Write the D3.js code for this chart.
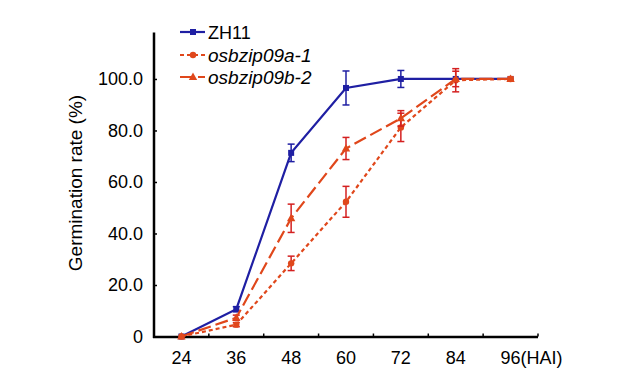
<!DOCTYPE html>
<html><head><meta charset="utf-8">
<script src="https://cdn.jsdelivr.net/npm/d3@7"></script>
<style>body{margin:0;background:#fff}svg{display:block}text{font-family:"Liberation Sans",Arial,sans-serif}</style>
</head><body><svg id="c" width="644" height="383"></svg>
<script>
const categories = ["24","36","48","60","72","84","96"];
const seriesNames = ["ZH11","osbzip09a-1","osbzip09b-2"];
const zh11 = [0, 10.6, 71.3, 96.5, 100, 100, 100];
const zh11Err = [0, 1, 3.4, 6.6, 3.3, 0, 0];
const a1 = [0, 4.6, 28.4, 52.3, 81.2, 99.5, 100];
const a1Err = [0, 0.8, 2.8, 6, 5.5, 4.5, 0];
const b2 = [0, 7.3, 45.9, 73, 84.7, 100, 100];
const b2Err = [0, 1, 5.5, 4.3, 3, 3, 0];
const yTicks = [0, 20, 40, 60, 80, 100];
const yTickLabels = ["0","20.0","40.0","60.0","80.0","100.0"];
const xAxisSuffix = "(HAI)";
const yLabel = "Germination rate (%)";

const svg = d3.select("#c");
const x = d3.scaleBand().domain(categories).range([154, 538]).paddingInner(0).paddingOuter(0);
const y = d3.scaleLinear().domain([0, 118]).range([336.5, 32.6]);
const cx = d => x(d) + x.bandwidth()/2;

const blue = "#1f1fa3", orange = "#e0471b", red = "#d42020";
const series = [
  {name: seriesNames[0], vals: zh11, err: zh11Err, color: blue, errColor: blue, dash: null, marker: "square", italic: false},
  {name: seriesNames[1], vals: a1, err: a1Err, color: orange, errColor: red, dash: "4,3", marker: "circle", italic: true},
  {name: seriesNames[2], vals: b2, err: b2Err, color: orange, errColor: red, dash: "13,5", marker: "triangle", italic: true}
];

// axes
const yAxis = d3.axisLeft(y).tickValues(yTicks).tickFormat((d,i)=>yTickLabels[i]).tickSizeInner(-3).tickSizeOuter(0).tickPadding(11);
const gy = svg.append("g").attr("transform","translate(154,0)").call(yAxis);
gy.select(".domain").remove();
gy.selectAll(".tick line").attr("stroke","#000").attr("stroke-width",1.5);
gy.selectAll(".tick text").attr("font-size",18).attr("fill","#000").attr("font-family","Liberation Sans, Arial, sans-serif");
svg.append("line").attr("x1",154).attr("x2",154).attr("y1",y(118)).attr("y2",338).attr("stroke","#000").attr("stroke-width",2.5);

const edges = categories.slice(1).map(c => x(c)).concat([x(categories[categories.length-1]) + x.bandwidth()]);
svg.append("g").selectAll("line").data(edges).join("line")
  .attr("x1",d=>d).attr("x2",d=>d).attr("y1",333.5).attr("y2",336.5).attr("stroke","#000").attr("stroke-width",1.5);
svg.append("line").attr("x1",153).attr("x2",x(categories[categories.length-1]) + x.bandwidth()).attr("y1",337).attr("y2",337).attr("stroke","#000").attr("stroke-width",2.5);

const xl = svg.append("g").selectAll("text").data(categories).join("text")
  .attr("y", 363.5).attr("font-size",18).attr("fill","#000");
xl.each(function(d,i){
  const t = d3.select(this);
  if (i === categories.length-1) {
    t.attr("text-anchor","start").attr("x", cx(d) - 10).text(d + xAxisSuffix);
  } else {
    t.attr("text-anchor","middle").attr("x", cx(d)).text(d);
  }
});

svg.append("text").attr("transform","translate(82,183) rotate(-90)").attr("text-anchor","middle")
  .attr("font-size",19).attr("fill","#000").text(yLabel);

function drawMarker(g, type, px, py, color){
  if (type === "square") g.append("rect").attr("x",px-3).attr("y",py-3).attr("width",6).attr("height",6).attr("fill",color);
  else if (type === "circle") g.append("circle").attr("cx",px).attr("cy",py).attr("r",3.2).attr("fill",color);
  else g.append("path").attr("d",`M${px},${py-4.5}L${px+4.2},${py+3}L${px-4.2},${py+3}Z`).attr("fill",color);
}

const line = d3.line().x((d,i)=>cx(categories[i])).y(d=>y(d));
const plot = svg.append("g");
series.forEach(s => {
  const g = plot.append("g");
  s.vals.forEach((v,i) => {
    const e = s.err[i];
    if (e <= 0) return;
    const px = cx(categories[i]);
    g.append("line").attr("x1",px).attr("x2",px).attr("y1",y(v+e)).attr("y2",y(v-e)).attr("stroke",s.errColor).attr("stroke-width",1.5);
    [v+e, v-e].forEach(w => g.append("line").attr("x1",px-3.5).attr("x2",px+3.5).attr("y1",y(w)).attr("y2",y(w)).attr("stroke",s.errColor).attr("stroke-width",1.5));
  });
  g.append("path").attr("d", line(s.vals)).attr("fill","none").attr("stroke",s.color).attr("stroke-width",2.2)
    .attr("stroke-dasharray", s.dash);
  s.vals.forEach((v,i) => drawMarker(g, s.marker, cx(categories[i]), y(v), s.color));
});
drawMarker(plot, "square", cx(categories[6]), y(a1[6]), orange);

// legend
const legY = [32, 55, 77];
const lg = svg.append("g");
series.forEach((s,i) => {
  lg.append("line").attr("x1",180).attr("x2",205).attr("y1",legY[i]).attr("y2",legY[i]).attr("stroke",s.color).attr("stroke-width",2.2).attr("stroke-dasharray", s.dash);
  drawMarker(lg, s.marker, 193, legY[i], s.color);
  lg.append("text").attr("x",208).attr("y",legY[i]+6.5).attr("font-size", s.italic ? 19 : 18).attr("fill","#000")
    .attr("font-style", s.italic ? "italic" : "normal").text(s.name);
});
</script></body></html>
